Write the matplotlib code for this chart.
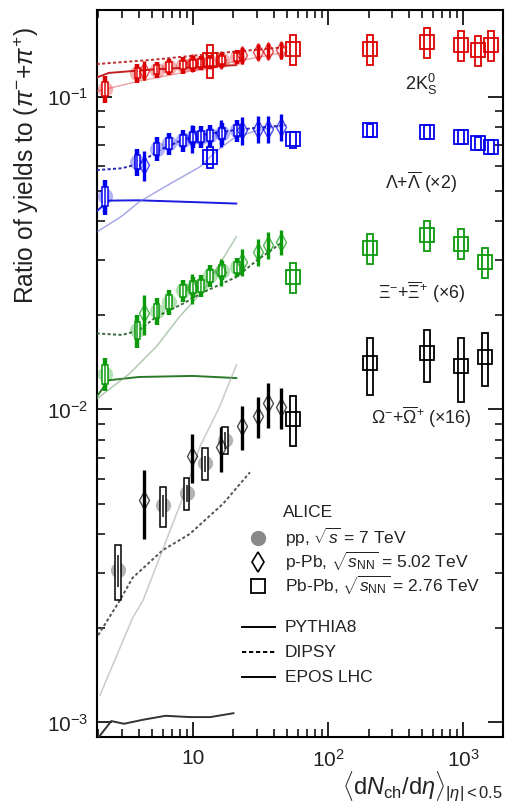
import numpy as np
import matplotlib
matplotlib.use('Agg')
import matplotlib.pyplot as plt
from matplotlib.patches import Rectangle
from matplotlib.ticker import FuncFormatter, LogLocator, NullFormatter

plt.rcParams['font.family'] = ['Liberation Sans', 'DejaVu Sans']
plt.rcParams['mathtext.fontset'] = 'custom'
plt.rcParams['mathtext.rm'] = 'Liberation Sans'
plt.rcParams['mathtext.it'] = 'Liberation Sans:italic'
plt.rcParams['mathtext.bf'] = 'Liberation Sans:bold'
plt.rcParams['mathtext.sf'] = 'Liberation Sans'

# multiplicity classes, <dNch/deta>
pp_x = [2.26, 3.90, 5.40, 6.72, 8.45, 10.1, 11.5, 13.5, 16.5, 21.3]
pp_x_omega = [2.8, 6.0, 9.0, 12.3, 17.3]
ppb_x = [4.4, 9.8, 16.1, 23.2, 30.5, 36.2, 45.0]
pbpb_x = [13.4, 55, 205, 537, 966, 1294, 1601]
pbpb_x_multi = [55, 205, 537, 966, 1447]

# 2K0S / (pi+ + pi-)
k0s_pp = [0.106, 0.119, 0.122, 0.1245, 0.126, 0.1274, 0.128, 0.129, 0.1313, 0.1339]
k0s_pp_bar = [0.10, 0.07, 0.06, 0.06, 0.06, 0.06, 0.05, 0.05, 0.05, 0.05]
k0s_pp_box = [0.05, 0.04, 0.035, 0.035, 0.03, 0.03, 0.03, 0.03, 0.03, 0.03]
k0s_ppb = [0.121, 0.128, 0.131, 0.1355, 0.1387, 0.1398, 0.1406]
k0s_ppb_bar = [0.07, 0.06, 0.06, 0.06, 0.06, 0.06, 0.06]
k0s_pbpb = [0.1306, 0.142, 0.142, 0.149, 0.146, 0.141, 0.146]
k0s_pbpb_box = [0.12, 0.11, 0.11, 0.11, 0.11, 0.11, 0.11]

# (Lambda + anti-Lambda) x 2
lam_pp = [0.048, 0.0618, 0.0682, 0.0708, 0.0725, 0.0743, 0.0745, 0.0752, 0.0762, 0.078]
lam_pp_bar = [0.13, 0.10, 0.09, 0.08, 0.08, 0.08, 0.08, 0.08, 0.08, 0.08]
lam_pp_box = [0.07, 0.05, 0.045, 0.04, 0.04, 0.04, 0.04, 0.04, 0.04, 0.04]
lam_ppb = [0.0603, 0.0735, 0.0765, 0.078, 0.079, 0.079, 0.080]
lam_ppb_bar = [0.11, 0.10, 0.10, 0.10, 0.10, 0.10, 0.10]
lam_pbpb = [0.0641, 0.0729, 0.078, 0.077, 0.0743, 0.0708, 0.069]
lam_pbpb_box = [0.08, 0.06, 0.05, 0.05, 0.05, 0.05, 0.05]

# (Xi- + anti-Xi+) x 6
xi_pp = [0.0130, 0.0179, 0.0207, 0.0221, 0.024, 0.0246, 0.0249, 0.0268, 0.0278, 0.0285]
xi_pp_bar = [0.12, 0.12, 0.10, 0.09, 0.08, 0.08, 0.08, 0.08, 0.07, 0.07]
xi_pp_box = [0.07, 0.06, 0.05, 0.05, 0.045, 0.045, 0.045, 0.045, 0.04, 0.04]
xi_ppb = [0.0203, 0.0245, 0.0275, 0.0296, 0.0319, 0.0335, 0.0343]
xi_ppb_bar = [0.145, 0.11, 0.10, 0.10, 0.10, 0.10, 0.09]
xi_pbpb = [0.0265, 0.0327, 0.0361, 0.0339, 0.0296]
xi_pbpb_box = [0.11, 0.11, 0.11, 0.11, 0.11]

# (Omega- + anti-Omega+) x 16
om_pp = [0.00307, 0.00494, 0.0054, 0.00672, 0.00798]
om_pp_bar = [0.12, 0.08, 0.06, 0.06, 0.06]
om_pp_box = [0.20, 0.145, 0.117, 0.117, 0.10]
om_ppb = [0.00513, 0.0071, 0.00757, 0.00885, 0.00955, 0.01046, 0.0102]
om_ppb_bar = [0.25, 0.18, 0.165, 0.16, 0.15, 0.165, 0.15]
om_pbpb = [0.00935, 0.01403, 0.0151, 0.01375, 0.01472]
om_pbpb_box = [0.18, 0.21, 0.19, 0.23, 0.19]

# model curves
k0s_pythia_x = [1.95, 2.4, 5, 10, 21]
k0s_pythia = [0.115, 0.119, 0.122, 0.124, 0.126]
k0s_dipsy_x = [1.95, 5, 10, 20, 50]
k0s_dipsy = [0.127, 0.131, 0.135, 0.139, 0.144]
k0s_epos_x = [1.95, 4, 10, 20, 50]
k0s_epos = [0.104, 0.112, 0.121, 0.129, 0.139]

lam_pythia_x = [1.95, 2.4, 4, 10, 21]
lam_pythia = [0.043, 0.0465, 0.0466, 0.046, 0.0455]
lam_dipsy_x = [1.95, 3.0, 4.0, 5.5, 8.0, 12, 20, 30, 48]
lam_dipsy = [0.0582, 0.059, 0.061, 0.067, 0.072, 0.0755, 0.078, 0.0795, 0.081]
lam_epos_x = [1.95, 3.0, 4.0, 7.0, 11.3, 15, 20, 30, 49]
lam_epos = [0.0369, 0.0415, 0.046, 0.053, 0.0596, 0.067, 0.0735, 0.078, 0.081]

xi_pythia_x = [1.95, 2.4, 4, 10, 21]
xi_pythia = [0.0110, 0.0124, 0.0127, 0.0128, 0.0126]
xi_dipsy_x = [1.95, 3.0, 4.0, 5.4, 8.5, 12, 21, 30, 45]
xi_dipsy = [0.0175, 0.0173, 0.0179, 0.0198, 0.0218, 0.0237, 0.0265, 0.030, 0.034]
xi_epos_x = [1.95, 3.4, 5.4, 8.0, 12, 21]
xi_epos = [0.0108, 0.0130, 0.0159, 0.0198, 0.024, 0.0356]

om_pythia_x = [1.99, 2.5, 3.1, 4.3, 6.3, 9.5, 13.5, 20]
om_pythia = [0.00089, 0.00101, 0.00099, 0.00102, 0.00105, 0.00104, 0.00104, 0.00107]
om_dipsy_x = [2.0, 2.9, 3.6, 6.0, 9.5, 16.8, 26.5]
om_dipsy = [0.0019, 0.00246, 0.0029, 0.00355, 0.0040, 0.0050, 0.0063]
om_epos_x = [2.06, 3.6, 4.3, 8.5, 11.3, 15.8, 21.1]
om_epos = [0.00122, 0.00216, 0.00246, 0.00526, 0.0076, 0.0102, 0.0139]

RED, BLUE, GREEN, BLACK = '#dd0000', '#0000ee', '#0a9a0a', '#000000'
BOXW = 1.05   # half width of the narrow boxes, as a factor in x

fig = plt.figure(figsize=(5.19, 8.08), dpi=100)
ax = fig.add_axes([0.1863, 0.0882, 0.7834, 0.8994])
ax.set_xscale('log')
ax.set_yscale('log')
ax.set_xlim(1.95, 1980)
ax.set_ylim(9.0e-4, 0.189)


def box(x, y, rel, color, lw=1.1, face='none', z=6):
    ax.add_patch(Rectangle((x / BOXW, y * (1 - rel)), x * BOXW - x / BOXW, 2 * y * rel,
                           fc=face, ec=color, lw=lw, zorder=z))


def draw_pp(x, y, bar, bx, color):
    x, y, bar = np.asarray(x), np.asarray(y), np.asarray(bar)
    ax.plot(x, y, 'o', ms=11, color=color, alpha=0.3, mec='none', zorder=4)
    ax.vlines(x, y * (1 - bar), y * (1 + bar), color=color, lw=3.2, zorder=5)
    for xi, yi, bi in zip(x, y, bx):
        box(xi, yi, bi, color, face='white')
    # stat part drawn again on top so it shows inside tall boxes
    ax.vlines(x, y * (1 - bar), y * (1 + bar), color=color, lw=1.3, alpha=0.8, zorder=7)


def draw_ppb(x, y, bar, color):
    x, y, bar = np.asarray(x), np.asarray(y), np.asarray(bar)
    ax.vlines(x, y * (1 - bar), y * (1 + bar), color=color, lw=2.4, zorder=5)
    ax.plot(x, y, 'd', ms=9, mfc='none', mec=color, mew=1.0, alpha=0.7, zorder=6)


def draw_pbpb(x, y, bx, color):
    ax.plot(x, y, 's', ms=10, mfc='none', mec=color, mew=1.3, zorder=6)
    for xi, yi, bi in zip(x, y, bx):
        box(xi, yi, bi, color, lw=1.3)


def draw_models(px, py, dx, dy, ex, ey, c_pyth, c_dip, c_epos):
    ax.plot(px, py, '-', color=c_pyth, lw=1.4, zorder=3)
    ax.plot(dx, dy, color=c_dip, lw=1.4, ls=(0, (1.6, 1.2)), zorder=3)
    ax.plot(ex, ey, '-', color=c_epos, lw=1.1, alpha=0.6, zorder=3)


draw_models(k0s_pythia_x, k0s_pythia, k0s_dipsy_x, k0s_dipsy, k0s_epos_x, k0s_epos,
            '#c02020', '#b83030', '#e07070')
draw_models(lam_pythia_x, lam_pythia, lam_dipsy_x, lam_dipsy, lam_epos_x, lam_epos,
            '#1a1ae0', '#2a2ab0', '#7070d8')
draw_models(xi_pythia_x, xi_pythia, xi_dipsy_x, xi_dipsy, xi_epos_x, xi_epos,
            '#2a7a2a', '#3a6a3a', '#80a880')
draw_models(om_pythia_x, om_pythia, om_dipsy_x, om_dipsy, om_epos_x, om_epos,
            '#333333', '#555555', '#a8a8a8')

for c, ppy, ppbar, ppbox, pby, pbbar, pbx, aay, aabox, ppx in [
        (RED, k0s_pp, k0s_pp_bar, k0s_pp_box, k0s_ppb, k0s_ppb_bar, pbpb_x, k0s_pbpb, k0s_pbpb_box, pp_x),
        (BLUE, lam_pp, lam_pp_bar, lam_pp_box, lam_ppb, lam_ppb_bar, pbpb_x, lam_pbpb, lam_pbpb_box, pp_x),
        (GREEN, xi_pp, xi_pp_bar, xi_pp_box, xi_ppb, xi_ppb_bar, pbpb_x_multi, xi_pbpb, xi_pbpb_box, pp_x),
        (BLACK, om_pp, om_pp_bar, om_pp_box, om_ppb, om_ppb_bar, pbpb_x_multi, om_pbpb, om_pbpb_box, pp_x_omega)]:
    draw_pp(ppx, ppy, ppbar, ppbox, c)
    draw_ppb(ppb_x, pby, pbbar, c)
    draw_pbpb(pbx, aay, aabox, c)

# species labels
txt = '#222222'
ax.text(0.798, 0.897, r'2K$^{0}_{\mathrm{S}}$', transform=ax.transAxes, ha='center', va='center',
        fontsize=13, color=txt)
ax.text(0.798, 0.763, r'$\Lambda$+$\overline{\Lambda}$ ($\times$2)', transform=ax.transAxes,
        ha='center', va='center', fontsize=12.8, color=txt)
ax.text(0.798, 0.611, r'$\Xi^{-}$+$\overline{\Xi}^{+}$ ($\times$6)', transform=ax.transAxes,
        ha='center', va='center', fontsize=12.8, color=txt)
ax.text(0.798, 0.440, r'$\Omega^{-}$+$\overline{\Omega}^{+}$ ($\times$16)', transform=ax.transAxes,
        ha='center', va='center', fontsize=12.8, color=txt)

# legend, drawn by hand
lx_mark, lx_text = 0.397, 0.463
ax.text(lx_text - 0.005, 0.308, 'ALICE', transform=ax.transAxes, va='center', fontsize=12.5, color=txt)
rows = [(0.274, 'o', dict(mfc='#888888', mec='none', ms=11), r'pp, $\sqrt{s}$ = 7 TeV'),
        (0.241, 'd', dict(mfc='none', mec='black', ms=10, mew=1.2), r'p-Pb, $\sqrt{s_{\mathrm{NN}}}$ = 5.02 TeV'),
        (0.208, 's', dict(mfc='none', mec='black', ms=10, mew=1.3), r'Pb-Pb, $\sqrt{s_{\mathrm{NN}}}$ = 2.76 TeV')]
for ly, m, kw, label in rows:
    ax.plot([lx_mark], [ly], m, transform=ax.transAxes, clip_on=False, **kw)
    ax.text(lx_text, ly, label, transform=ax.transAxes, va='center', fontsize=12.5, color=txt)

lines = [(0.151, '-', 'PYTHIA8'), (0.116, (0, (2.2, 1.4)), 'DIPSY'), (0.082, '-', 'EPOS LHC')]
for ly, ls, label in lines:
    ax.plot([0.357, 0.438], [ly, ly], transform=ax.transAxes, color='black', lw=1.4, ls=ls)
    ax.text(0.463, ly, label, transform=ax.transAxes, va='center', fontsize=12.5, color=txt)

# axes styling
for s in ax.spines.values():
    s.set_linewidth(1.5)
ax.tick_params(which='both', direction='in', top=True, right=True, colors='black')
ax.tick_params(which='major', length=11, width=1.2, labelsize=15, labelcolor=txt)
ax.tick_params(axis='x', which='major', pad=9)
ax.tick_params(axis='y', which='major', pad=6)
ax.tick_params(which='minor', length=5.5, width=1.1)
ax.xaxis.set_major_locator(LogLocator(base=10, numticks=10))
ax.xaxis.set_minor_locator(LogLocator(base=10, subs=np.arange(2, 10), numticks=20))
ax.yaxis.set_major_locator(LogLocator(base=10, numticks=10))
ax.yaxis.set_minor_locator(LogLocator(base=10, subs=np.arange(2, 10), numticks=20))
ax.xaxis.set_minor_formatter(NullFormatter())
ax.yaxis.set_minor_formatter(NullFormatter())


def pow10(v, pos):
    n = int(round(np.log10(v)))
    return '10' if n == 1 else r'$10^{%d}$' % n


ax.xaxis.set_major_formatter(FuncFormatter(pow10))
ax.yaxis.set_major_formatter(FuncFormatter(pow10))

ax.set_ylabel(r'Ratio of yields to ($\pi^{-}$+$\pi^{+}$)', fontsize=17.7, y=0.977, ha='right', color=txt)
ax.set_xlabel(r'$\langle\mathrm{d}N_{\mathrm{ch}}/\mathrm{d}\eta\rangle_{|\eta|< 0.5}$',
              fontsize=17, loc='right', color=txt, labelpad=-1)

fig.savefig('out.png', dpi=100)
